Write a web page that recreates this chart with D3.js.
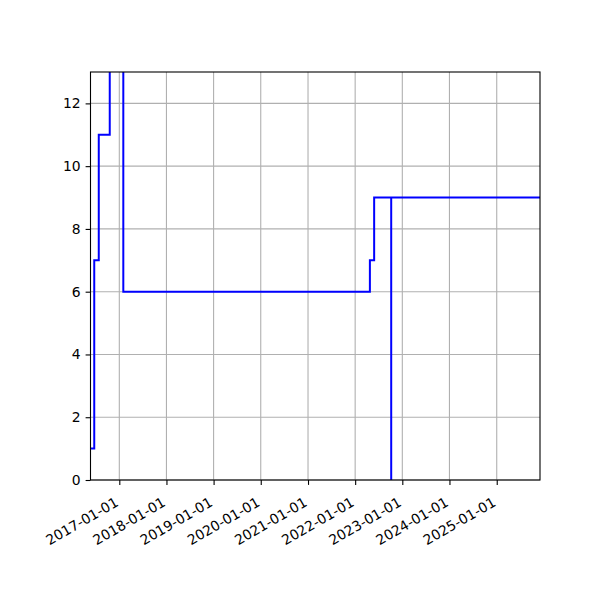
<!DOCTYPE html>
<html>
<head>
<meta charset="utf-8">
<script src="https://cdn.jsdelivr.net/npm/d3@7"></script>
<style>
  body { margin: 0; background: #fff; }
  svg text { font-family: "DejaVu Sans", sans-serif; }
</style>
</head>
<body>
<div id="chart"></div>
<script>
// step series (value holds until the next date)
const dates = ["2016-05-23", "2016-06-21", "2016-07-26", "2016-10-19", "2017-02-01",
               "2022-04-25", "2022-05-28", "2022-10-07", "2022-10-07", "2025-12-02"];
const values = [1, 7, 11, 14, 6, 7, 9, 0, 9, 9];
const yTicks = [0, 2, 4, 6, 8, 10, 12];
const xTickLabels = ["2017-01-01", "2018-01-01", "2019-01-01", "2020-01-01", "2021-01-01",
                     "2022-01-01", "2023-01-01", "2024-01-01", "2025-01-01"];
const xDomain = ["2016-05-23", "2025-12-02"];
const yDomain = [0, 13];

const parse = d3.utcParse("%Y-%m-%d");
const width = 600, height = 600;
const margin = { top: 72, right: 60, bottom: 120, left: 90.5 };
const innerW = width - margin.left - margin.right;
const innerH = height - margin.top - margin.bottom;

const svg = d3.select("#chart").append("svg")
    .attr("width", width)
    .attr("height", height);

const g = svg.append("g").attr("transform", `translate(${margin.left},${margin.top})`);

const x = d3.scaleUtc().domain(xDomain.map(parse)).range([0, innerW]);
const y = d3.scaleLinear().domain(yDomain).range([innerH, 0]);

const xTicks = xTickLabels.map(parse);

// grid
g.append("g").selectAll("line").data(xTicks).join("line")
    .attr("x1", d => x(d)).attr("x2", d => x(d))
    .attr("y1", 0).attr("y2", innerH)
    .attr("stroke", "#b0b0b0").attr("stroke-width", 1.1);
g.append("g").selectAll("line").data(yTicks).join("line")
    .attr("x1", 0).attr("x2", innerW)
    .attr("y1", d => y(d)).attr("y2", d => y(d))
    .attr("stroke", "#b0b0b0").attr("stroke-width", 1.1);

// line, clipped to the axes
svg.append("clipPath").attr("id", "clip")
  .append("rect").attr("width", innerW).attr("height", innerH);

const pts = dates.map((d, i) => [parse(d), values[i]]);
const line = d3.line()
    .x(d => x(d[0]))
    .y(d => y(d[1]))
    .curve(d3.curveStepAfter);

g.append("path")
    .datum(pts)
    .attr("clip-path", "url(#clip)")
    .attr("fill", "none")
    .attr("stroke", "#0000ff")
    .attr("stroke-width", 2)
    .attr("d", line);

// axes
const xAxis = g.append("g")
    .attr("transform", `translate(0,${innerH})`)
    .call(d3.axisBottom(x).tickValues(xTicks).tickFormat(d3.utcFormat("%Y-%m-%d"))
        .tickSize(4.9).tickPadding(0));
xAxis.select(".domain").remove();
xAxis.selectAll(".tick line").attr("stroke-width", 1.1);
xAxis.selectAll(".tick text")
    .attr("font-family", "DejaVu Sans")
    .attr("font-size", 13.9)
    .attr("fill", "#000")
    .attr("text-anchor", "end")
    .attr("y", 0).attr("dy", "0.8em")
    .attr("transform", "translate(-6,15.5) rotate(-30)");

const yAxis = g.append("g")
    .call(d3.axisLeft(y).tickValues(yTicks).tickSize(4.9).tickPadding(4.9));
yAxis.select(".domain").remove();
yAxis.selectAll(".tick line").attr("stroke-width", 1.1);
yAxis.selectAll(".tick text")
    .attr("font-family", "DejaVu Sans")
    .attr("font-size", 13.9).attr("fill", "#000");

// spines
g.append("rect")
    .attr("width", innerW).attr("height", innerH)
    .attr("fill", "none").attr("stroke", "#000").attr("stroke-width", 1.1);
</script>
</body>
</html>
